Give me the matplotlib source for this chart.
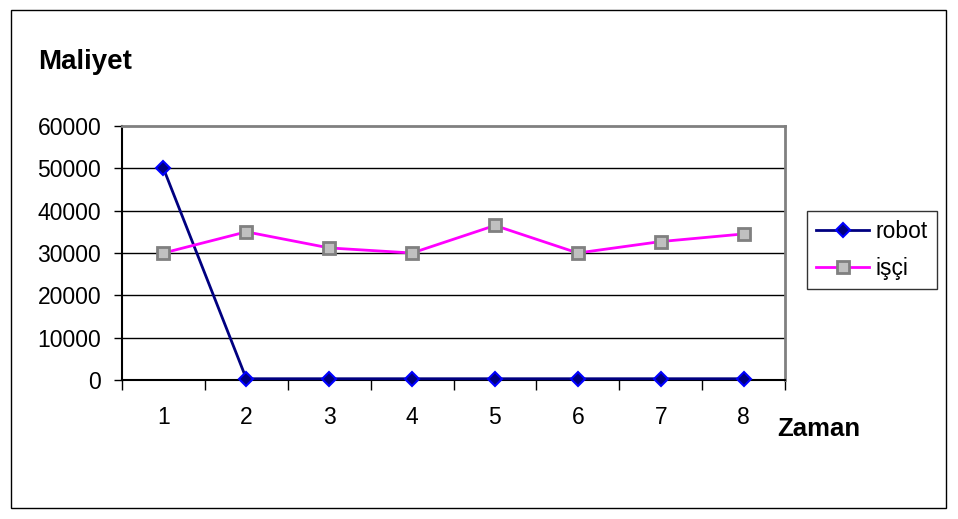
import matplotlib

matplotlib.use("Agg")
import matplotlib.pyplot as plt
from matplotlib.patches import Rectangle

plt.rcParams["font.family"] = ["Liberation Sans", "DejaVu Sans"]

# chart data
periods = [1, 2, 3, 4, 5, 6, 7, 8]
robot_cost = [50000, 300, 300, 300, 300, 300, 300, 300]
worker_cost = [30000, 35000, 31200, 30000, 36500, 30000, 32700, 34500]
y_ticks = [0, 10000, 20000, 30000, 40000, 50000, 60000]

fig = plt.figure(figsize=(9.58, 5.19), dpi=100)
fig.patches.append(
    Rectangle((11 / 958, 1 - 508 / 519), 935 / 958, 498 / 519,
              transform=fig.transFigure, fill=False, edgecolor="black", linewidth=1)
)

ax = fig.add_axes([122 / 958, 1 - 380 / 519, 663 / 958, 254 / 519])
ax.set_xlim(0.5, 8.5)
ax.set_ylim(0, 60000)

for v in y_ticks[1:-1]:
    ax.axhline(v, color="black", linewidth=1, zorder=1)

ax.plot(periods, robot_cost, color="#000080", linewidth=2, marker="D",
        markersize=7.5, markerfacecolor="#000080", markeredgecolor="#0000FF",
        markeredgewidth=1.5, label="robot", zorder=3, clip_on=False)
ax.plot(periods, worker_cost, color="#FF00FF", linewidth=2, marker="s",
        markersize=8, markerfacecolor="#C0C0C0", markeredgecolor="#808080",
        markeredgewidth=2, label="işçi", zorder=3)

ax.set_yticks(y_ticks)
ax.set_yticklabels([str(v) for v in y_ticks], fontsize=16.5)
ax.set_xticks(periods)
ax.set_xticklabels([str(p) for p in periods], fontsize=16.5)
ax.set_xticks([p - 0.5 for p in periods] + [8.5], minor=True)
ax.tick_params(axis="x", which="major", length=0, pad=19)
ax.tick_params(axis="x", which="minor", length=7, width=1, color="black")
ax.tick_params(axis="y", length=6, width=1, pad=9)

for side in ("top", "right"):
    ax.spines[side].set_color("#808080")
    ax.spines[side].set_linewidth(2)
for side in ("left", "bottom"):
    ax.spines[side].set_color("black")
    ax.spines[side].set_linewidth(1.5)

fig.text(38 / 958, 1 - 62 / 519, "Maliyet", fontsize=20, fontweight="bold",
         va="center", ha="left")
fig.text(777 / 958, 1 - 429 / 519, "Zaman", fontsize=18.5, fontweight="bold",
         va="center", ha="left")

leg = fig.legend(loc="upper left", bbox_to_anchor=(807 / 958, 1 - 211 / 519),
                 bbox_transform=fig.transFigure, fontsize=16.5, frameon=True,
                 fancybox=False, edgecolor="black", handlelength=2.3,
                 borderpad=0.4, labelspacing=0.6, handletextpad=0.3,
                 borderaxespad=0)
leg.get_frame().set_linewidth(1)

fig.savefig("out.png", dpi=100)
